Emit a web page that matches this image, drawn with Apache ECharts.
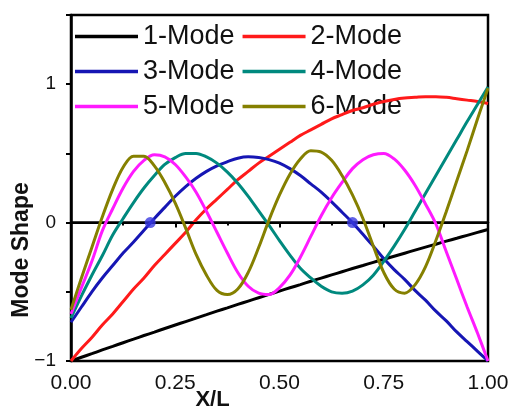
<!DOCTYPE html>
<html>
<head>
<meta charset="utf-8">
<script src="https://cdn.jsdelivr.net/npm/echarts@6/dist/echarts.min.js"></script>
<style>
html,body{margin:0;padding:0;background:#fff;}
#chart{width:511px;height:407px;}
</style>
</head>
<body>
<div id="chart"></div>
<script>
// X/L sample positions
var xs = [0,0.025,0.05,0.075,0.1,0.125,0.15,0.175,0.2,0.225,0.25,0.275,0.3,0.325,0.35,0.375,0.4,0.425,0.45,0.475,0.5,
          0.525,0.55,0.575,0.6,0.625,0.65,0.675,0.7,0.725,0.75,0.775,0.8,0.825,0.85,0.875,0.9,0.925,0.95,0.975,1];
var seriesNames = ['1-Mode','2-Mode','3-Mode','4-Mode','5-Mode','6-Mode'];
var mode1 = [-1,-0.973,-0.947,-0.92,-0.894,-0.868,-0.842,-0.816,-0.791,-0.765,-0.74,-0.715,-0.69,-0.665,-0.64,-0.616,-0.591,-0.567,-0.543,-0.519,-0.495,
             -0.471,-0.448,-0.424,-0.401,-0.378,-0.355,-0.332,-0.31,-0.287,-0.265,-0.243,-0.221,-0.199,-0.177,-0.156,-0.134,-0.113,-0.092,-0.071,-0.05];
var mode2 = [-1,-0.91,-0.83,-0.74,-0.66,-0.57,-0.48,-0.40,-0.31,-0.23,-0.15,-0.07,0.02,0.10,0.17,0.24,0.31,0.37,0.43,0.48,0.53,
             0.58,0.63,0.67,0.71,0.75,0.78,0.81,0.83,0.855,0.875,0.89,0.90,0.905,0.91,0.91,0.905,0.895,0.885,0.875,0.86];
var mode3 = [-0.72,-0.61,-0.50,-0.40,-0.31,-0.22,-0.14,-0.055,0.03,0.11,0.19,0.26,0.32,0.37,0.41,0.44,0.465,0.475,0.47,0.455,0.43,
             0.39,0.34,0.28,0.22,0.15,0.075,0.0,-0.085,-0.17,-0.26,-0.34,-0.41,-0.49,-0.56,-0.64,-0.71,-0.79,-0.86,-0.93,-1.0];
var mode4 = [-0.69,-0.53,-0.38,-0.24,-0.09,0.03,0.145,0.25,0.34,0.42,0.47,0.50,0.50,0.475,0.43,0.365,0.285,0.19,0.085,-0.02,-0.13,
             -0.235,-0.33,-0.40,-0.46,-0.50,-0.51,-0.495,-0.45,-0.38,-0.28,-0.17,-0.05,0.08,0.21,0.34,0.47,0.60,0.73,0.855,0.98];
var mode5 = [-0.66,-0.47,-0.28,-0.06,0.10,0.25,0.37,0.45,0.49,0.475,0.42,0.33,0.22,0.08,-0.07,-0.22,-0.36,-0.46,-0.51,-0.52,-0.47,
             -0.38,-0.25,-0.10,0.05,0.18,0.29,0.39,0.455,0.49,0.50,0.46,0.38,0.27,0.135,-0.01,-0.21,-0.41,-0.61,-0.80,-1.0];
var mode6 = [-0.63,-0.40,-0.18,0.04,0.24,0.40,0.48,0.48,0.41,0.29,0.14,-0.04,-0.23,-0.38,-0.49,-0.52,-0.48,-0.36,-0.18,0.02,0.20,
             0.35,0.46,0.52,0.51,0.45,0.34,0.20,0.03,-0.17,-0.36,-0.48,-0.51,-0.45,-0.32,-0.13,0.08,0.30,0.52,0.75,0.97];
// zero crossings of the 3rd mode marked with dots
var nodeX = [0.19, 0.675];
var nodeY = [0, 0];
var xTicks = [0, 0.25, 0.5, 0.75, 1];
var yLabels = [-1, 0, 1];

var colors = ['#000000','#ff1a1a','#1616b4','#00897e','#ff1aff','#858000'];
var modes = [mode1, mode2, mode3, mode4, mode5, mode6];

var chart = echarts.init(document.getElementById('chart'), null, {renderer:'canvas'});
var series = modes.map(function(m, k){
  var s = {
    name: seriesNames[k],
    type: 'line',
    data: xs.map(function(x,i){return [x, m[i]];}),
    symbol: 'none',
    showSymbol: false,
    smooth: 0.35,
    lineStyle: {color: colors[k], width: 3},
    itemStyle: {color: colors[k]},
    z: 3 + k
  };
  if (k === 0) {
    s.markLine = {
      silent: true, symbol: 'none', label: {show: false},
      lineStyle: {color: '#000', width: 2, type: 'solid'},
      data: [{yAxis: 0}]
    };
  }
  return s;
});
series.push({
  name: 'nodes', type: 'scatter',
  data: nodeX.map(function(x,i){return [x, nodeY[i]];}),
  symbolSize: 11, itemStyle: {color: '#3a3ae0'}, z: 20
});

chart.setOption({
  animation: false,
  backgroundColor: '#fff',
  grid: {left: 71, right: 23, top: 15, bottom: 46, outerBoundsMode: 'none', containLabel: false,
         show: true, borderColor: '#000', borderWidth: 2.5, backgroundColor: 'transparent'},
  legend: {
    data: seriesNames,
    left: 75, top: 23, width: 345, padding: 0,
    icon: 'rect',
    itemWidth: 63, itemHeight: 3.5, itemGap: 8,
    textStyle: {fontFamily: 'Liberation Sans', fontSize: 27, lineHeight: 26, color: '#111'}
  },
  xAxis: {
    type: 'value', min: 0, max: 1, interval: 0.25,
    name: 'X/L', nameLocation: 'middle', nameGap: 28, nameMoveOverlap: false,
    nameTextStyle: {fontFamily: 'Liberation Sans', fontWeight: 'bold', fontSize: 22, color: '#111', padding: [0, 134, 0, 0]},
    axisLine: {show: true, lineStyle: {color: '#000', width: 2.5}},
    axisTick: {show: true, inside: false, length: 5, lineStyle: {color: '#000', width: 2}},
    minorTick: {show: true, splitNumber: 2, length: 3, lineStyle: {color: '#000', width: 2}},
    splitLine: {show: false},
    axisLabel: {fontFamily: 'Liberation Sans', fontSize: 21, color: '#111', margin: 12,
      formatter: function(v){ return xTicks.indexOf(v) >= 0 ? v.toFixed(2) : ''; }}
  },
  yAxis: {
    type: 'value', min: -1, max: 1.5, interval: 0.5,
    name: 'Mode Shape', nameLocation: 'middle', nameGap: 38, nameRotate: 90, nameMoveOverlap: false,
    nameTextStyle: {fontFamily: 'Liberation Sans', fontWeight: 'bold', fontSize: 23, color: '#111', padding: [0, 124, 0, 0]},
    axisLine: {show: true, lineStyle: {color: '#000', width: 2.5}},
    axisTick: {show: true, inside: false, length: 5, lineStyle: {color: '#000', width: 2}},
    splitLine: {show: false},
    axisLabel: {fontFamily: 'Liberation Sans', fontSize: 19, color: '#111', margin: 15,
      formatter: function(v){ return yLabels.indexOf(v) >= 0 ? (v < 0 ? '\u2212' + Math.abs(v) : String(v)) : ''; }}
  },
  series: series
});
</script>
</body>
</html>
